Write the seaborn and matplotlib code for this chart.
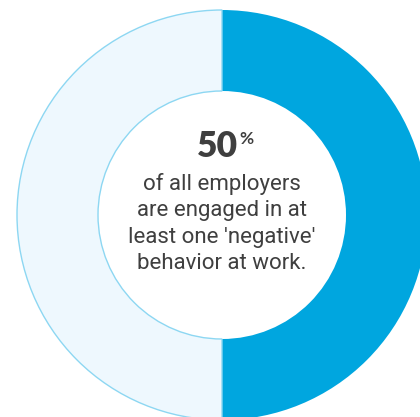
import matplotlib
matplotlib.use("Agg")
import matplotlib.pyplot as plt
import seaborn as sns
from matplotlib import font_manager

sns.set_theme(style="white")

# Share of employers with at least one 'negative' behaviour
segments = ["engaged", "not engaged"]
shares = [50, 50]
headline = "50"
caption_lines = ["of all employers", "are engaged in at", "least one 'negative'", "behavior at work."]

colors = ["#00a6df", "#eef8fe"]
edge_light = "#8dd7f2"
text_color = "#3f3f3f"

names = {f.name for f in font_manager.fontManager.ttflist}
narrow = "Liberation Sans Narrow" if "Liberation Sans Narrow" in names else "Roboto"

W, H = 420, 417
fig = plt.figure(figsize=(W / 100, H / 100), dpi=100)
ax = fig.add_axes([0, 0, 1, 1])

cx, cy = 222, H - 215
R, ring = 205, 81

wedges, _ = ax.pie(shares, colors=colors, startangle=90, counterclock=False,
                   center=(cx, cy), radius=R, frame=True,
                   wedgeprops=dict(width=ring, linewidth=0))
wedges[1].set_edgecolor(edge_light)
wedges[1].set_linewidth(1.0)
wedges[1].set_zorder(3)
ax.set_xlim(0, W)
ax.set_ylim(0, H)
ax.set_aspect("equal")
ax.axis("off")

# headline figure with a raised percent sign
ax.text(217, H - 146, headline, ha="center", va="center", fontsize=25.5,
        fontweight="heavy", family="Lato", color=text_color)
ax.text(239, H - 139, "%", ha="left", va="center", fontsize=12.5,
        fontweight="bold", family="Lato", color=text_color)

for i, line in enumerate(caption_lines):
    ax.text(222, H - (184 + 26.5 * i), line, ha="center", va="center",
            fontsize=16, family=narrow, color=text_color)

fig.savefig("out.png", dpi=100)
